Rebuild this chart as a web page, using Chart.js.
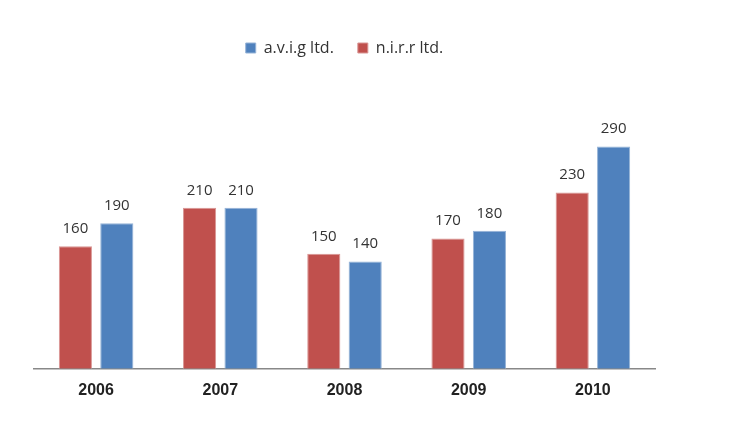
<!DOCTYPE html>
<html lang="en">
  <head>
    <meta charset="UTF-8" />
    <script src="https://cdn.jsdelivr.net/npm/chart.js"></script>
    <style>
      html, body { margin: 0; padding: 0; background: #fff; }
      #wrap { width: 751px; height: 422px; }
    </style>
  </head>
  <body>
    <div id="wrap"><canvas id="salesChart"></canvas></div>
    <script>
      // data
      const years = ["2006", "2007", "2008", "2009", "2010"];
      const nirrValues = [160, 210, 150, 170, 230];
      const avigValues = [190, 210, 140, 180, 290];

      // draws the value above each bar
      const valueLabels = {
        id: "valueLabels",
        afterDatasetsDraw(chart) {
          const ctx = chart.ctx;
          ctx.save();
          ctx.font = "15px 'Open Sans', sans-serif";
          ctx.fillStyle = "#333";
          ctx.textAlign = "center";
          ctx.textBaseline = "alphabetic";
          chart.data.datasets.forEach((ds, i) => {
            chart.getDatasetMeta(i).data.forEach((bar, j) => {
              ctx.fillText(ds.data[j], bar.x, bar.y - 13);
            });
          });
          ctx.restore();
        },
      };

      const ctx = document.getElementById("salesChart").getContext("2d");
      new Chart(ctx, {
        type: "bar",
        data: {
          labels: years,
          datasets: [
            {
              label: "n.i.r.r ltd.",
              data: nirrValues,
              backgroundColor: "#C0504D",
              borderColor: "#D99694",
              borderWidth: 1,
            },
            {
              label: "a.v.i.g ltd.",
              data: avigValues,
              backgroundColor: "#4F81BD",
              borderColor: "#95B3D7",
              borderWidth: 1,
            },
          ],
        },
        options: {
          responsive: true,
          maintainAspectRatio: false,
          animation: false,
          categoryPercentage: 0.667,
          barPercentage: 0.8,
          layout: {
            padding: { left: 34, right: 96, top: 16, bottom: 18 },
          },
          plugins: {
            legend: {
              position: "top",
              reverse: true,
              labels: {
                boxWidth: 10,
                boxHeight: 10,
                padding: 24,
                color: "#333",
                font: { family: "'Open Sans', sans-serif", size: 16 },
              },
            },
            tooltip: { enabled: false },
          },
          scales: {
            x: {
              grid: { display: false },
              border: { color: "#888", width: 1.5 },
              ticks: {
                color: "#222",
                padding: 4,
                font: { family: "'Liberation Sans', Arial, sans-serif", size: 16, weight: "bold" },
              },
            },
            y: {
              display: false,
              min: 0,
              max: 395,
            },
          },
        },
        plugins: [valueLabels],
      });
    </script>
  </body>
</html>
